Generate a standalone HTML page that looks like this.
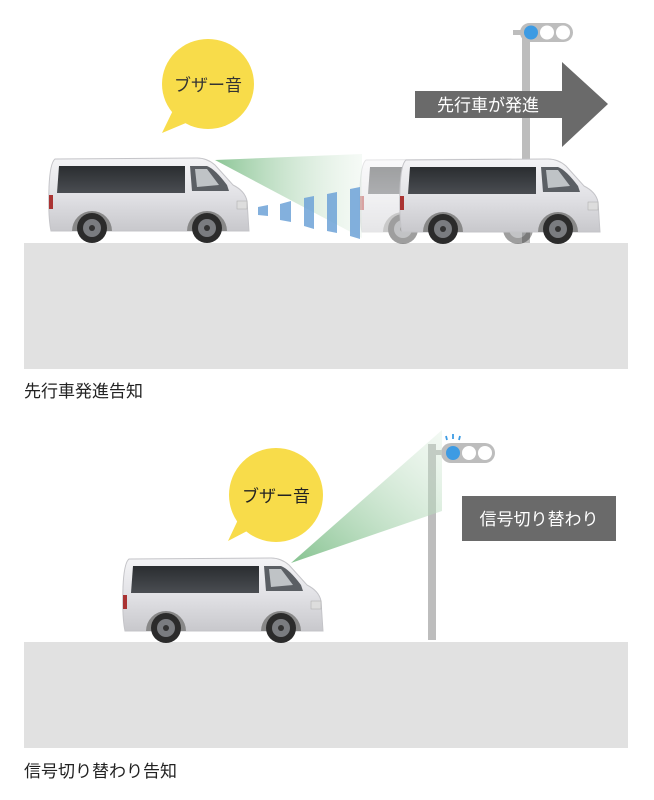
<!DOCTYPE html>
<html><head><meta charset="utf-8"><style>
html,body{margin:0;padding:0;background:#fff;}
svg{display:block}
text{font-family:"Liberation Sans","Noto Sans CJK JP",sans-serif;}
</style></head><body>
<svg width="654" height="800" viewBox="0 0 654 800" xmlns="http://www.w3.org/2000/svg">
<defs>
<linearGradient id="body" x1="0" y1="0" x2="0" y2="1">
<stop offset="0" stop-color="#f4f4f6"/><stop offset="0.5" stop-color="#e2e2e6"/><stop offset="1" stop-color="#c8c8cc"/>
</linearGradient>
<linearGradient id="win" x1="0" y1="0" x2="0" y2="1">
<stop offset="0" stop-color="#2a2d30"/><stop offset="1" stop-color="#4a4d52"/>
</linearGradient>
<linearGradient id="beam1" x1="0" y1="0" x2="1" y2="0">
<stop offset="0" stop-color="#7fbf8a" stop-opacity="0.9"/><stop offset="1" stop-color="#cfe6d2" stop-opacity="0.2"/>
</linearGradient>
<linearGradient id="beam2" x1="0" y1="1" x2="1" y2="0">
<stop offset="0" stop-color="#7fbf8a" stop-opacity="0.95"/><stop offset="1" stop-color="#d6ead8" stop-opacity="0.3"/>
</linearGradient>
<g id="van">
<path d="M8,2 L150,1 Q160,1 168,8 L186,28 Q198,34 200,44 L202,74 L4,74 Q1,60 2,30 Q3,6 8,2 Z" fill="url(#body)" stroke="#c4c4c8" stroke-width="1"/>
<path d="M12,9 L138,9 L138,36 L10,36 Z" fill="url(#win)"/>
<path d="M143,9 L160,9 Q168,12 180,28 L182,34 L145,34 Z" fill="#5b5f64"/>
<path d="M148,12 L160,12 L172,28 L150,30 Z" fill="#bfc3c6"/>
<rect x="2" y="38" width="4" height="14" fill="#a33"/>
<rect x="190" y="44" width="10" height="8" fill="#ddd" stroke="#aaa" stroke-width="0.5"/>
<path d="M25,74 A20,20 0 0 1 65,74 Z" fill="#888"/>
<path d="M140,74 A20,20 0 0 1 180,74 Z" fill="#888"/>
<circle cx="45" cy="71" r="15" fill="#2b2b2b"/><circle cx="45" cy="71" r="9" fill="#7a7c80"/><circle cx="45" cy="71" r="3" fill="#333"/>
<circle cx="160" cy="71" r="15" fill="#2b2b2b"/><circle cx="160" cy="71" r="9" fill="#7a7c80"/><circle cx="160" cy="71" r="3" fill="#333"/>
</g>
</defs>

<rect x="24" y="243" width="604" height="126" fill="#e1e1e1"/>
<text x="24" y="397" font-size="17" fill="#222">先行車発進告知</text>

<rect x="522" y="28" width="8" height="215" fill="#bdbdbd"/>
<rect x="513" y="30" width="10" height="5" fill="#bdbdbd"/>
<rect x="520" y="23" width="53" height="19" rx="9.5" fill="#bdbdbd"/>
<circle cx="531" cy="32.5" r="7" fill="#3d9be3"/>
<circle cx="547" cy="32.5" r="7" fill="#fff"/>
<circle cx="563" cy="32.5" r="7" fill="#fff"/>

<polygon points="415,91 562,91 562,62 608,104 562,147 562,118 415,118" fill="#6a6a6a"/>
<text x="488" y="111" font-size="17" fill="#fff" text-anchor="middle">先行車が発進</text>

<g opacity="0.45"><use href="#van" transform="translate(358,158)"/></g>
<use href="#van" transform="translate(398,158)"/>

<polygon points="215,160 362,154 362,238" fill="url(#beam1)"/>
<g fill="#6ea3d8" opacity="0.85">
<polygon points="258,207 268,205 268,216 258,215"/>
<polygon points="280,204 291,201 291,222 280,220"/>
<polygon points="304,198 314,196 314,229 304,226"/>
<polygon points="327,194 337,192 337,233 327,231"/>
<polygon points="350,189 360,187 360,239 350,236"/>
</g>

<use href="#van" transform="translate(47,157)"/>

<polygon points="162,133 178,100 205,115" fill="#f8dc4a"/>
<ellipse cx="208" cy="84" rx="46" ry="45" fill="#f8dc4a"/>
<text x="208" y="91" font-size="17" fill="#333" text-anchor="middle">ブザー音</text>

<rect x="24" y="642" width="604" height="106" fill="#e1e1e1"/>
<text x="24" y="777" font-size="17" fill="#222">信号切り替わり告知</text>

<rect x="428" y="444" width="8" height="196" fill="#bdbdbd"/>
<rect x="434" y="450" width="10" height="5" fill="#bdbdbd"/>
<rect x="441" y="443" width="54" height="20" rx="10" fill="#bdbdbd"/>
<circle cx="453" cy="453" r="7" fill="#3d9be3"/>
<circle cx="469" cy="453" r="7" fill="#fff"/>
<circle cx="485" cy="453" r="7" fill="#fff"/>
<g stroke="#3d9be3" stroke-width="1.8">
<line x1="446" y1="436" x2="447" y2="440"/>
<line x1="453" y1="434" x2="453" y2="439"/>
<line x1="460" y1="436" x2="459" y2="440"/>
</g>

<polygon points="291,563 442,430 442,511" fill="url(#beam2)"/>

<rect x="462" y="496" width="154" height="45" fill="#6a6a6a"/>
<text x="539" y="525" font-size="17" fill="#fff" text-anchor="middle">信号切り替わり</text>

<use href="#van" transform="translate(121,557)"/>

<polygon points="228,541 245,505 268,520" fill="#f8dc4a"/>
<ellipse cx="276" cy="495" rx="47" ry="47" fill="#f8dc4a"/>
<text x="276" y="502" font-size="17" fill="#222" text-anchor="middle">ブザー音</text>
</svg>
</body></html>
